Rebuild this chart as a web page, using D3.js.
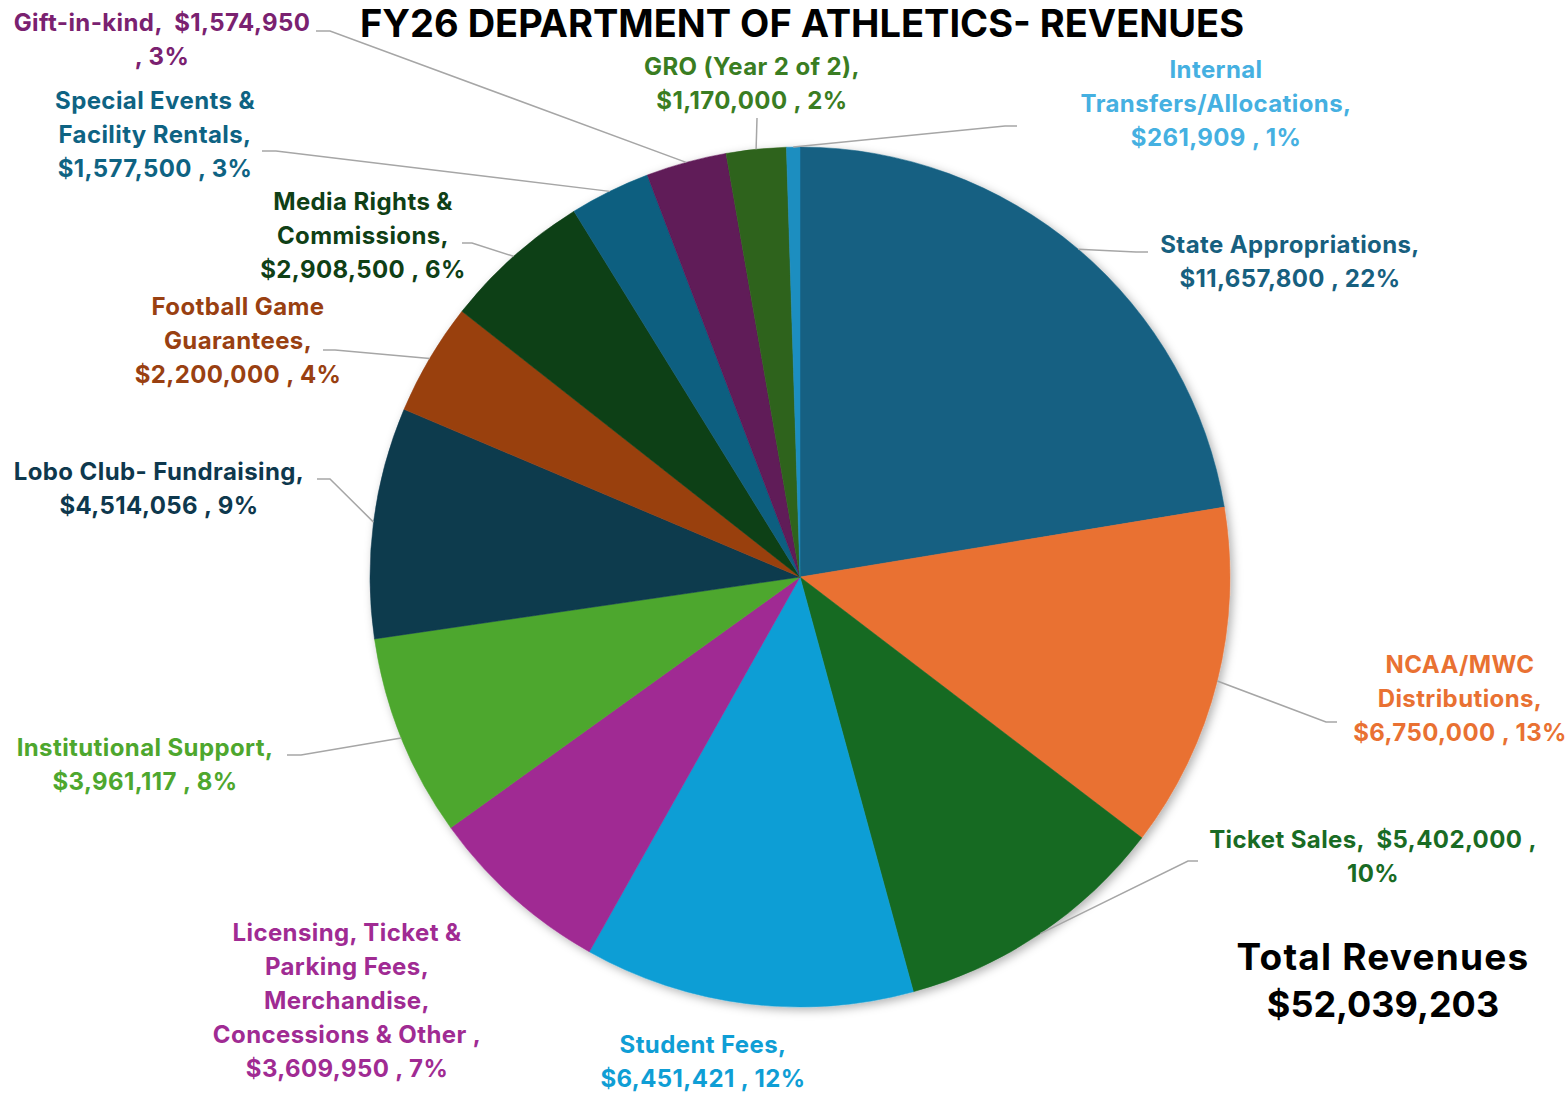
<!DOCTYPE html>
<html lang="en">
<head>
<meta charset="UTF-8">
<title>FY26 Athletics Revenues</title>
<style>
  body { margin: 0; background: #fff; }
  svg text { font-family: Inter, "Noto Sans", sans-serif; white-space: pre; }
</style>
</head>
<body>
<script src="https://d3js.org/d3.v7.min.js"></script>
<script>
// Chart data
const categories = [
    "State Appropriations",
    "NCAA/MWC Distributions",
    "Ticket Sales",
    "Student Fees",
    "Licensing, Ticket & Parking Fees, Merchandise, Concessions & Other",
    "Institutional Support",
    "Lobo Club- Fundraising",
    "Football Game Guarantees",
    "Media Rights & Commissions",
    "Special Events & Facility Rentals",
    "Gift-in-kind",
    "GRO (Year 2 of 2)",
    "Internal Transfers/Allocations"
];
const values = [11657800, 6750000, 5402000, 6451421, 3609950, 3961117,
    4514056, 2200000, 2908500, 1577500, 1574950, 1170000, 261909];

// how Excel wrapped each label ({v} = value, {p} = percent)
const labelLines = [
    ["State Appropriations,", "{v} , {p}"],
    ["NCAA/MWC", "Distributions,", "{v} , {p}"],
    ["Ticket Sales,  {v} ,", "{p}"],
    ["Student Fees,", "{v} , {p}"],
    ["Licensing, Ticket &", "Parking Fees,", "Merchandise,", "Concessions & Other ,", "{v} , {p}"],
    ["Institutional Support,", "{v} , {p}"],
    ["Lobo Club- Fundraising,", "{v} , {p}"],
    ["Football Game", "Guarantees,", "{v} , {p}"],
    ["Media Rights &", "Commissions,", "{v} , {p}"],
    ["Special Events &", "Facility Rentals,", "{v} , {p}"],
    ["Gift-in-kind,  {v}", ", {p}"],
    ["GRO (Year 2 of 2),", "{v} , {p}"],
    ["Internal", "Transfers/Allocations,", "{v} , {p}"]
];

const sliceColors = ["#156082", "#E97132", "#196B24", "#0F9ED5", "#A02B93", "#4EA72E",
    "#0D3A4E", "#994011", "#0F4016", "#095F80", "#601A58", "#2F641C", "#1F8EC0"];
const labelColors = ["#17607F", "#E97132", "#196B24", "#0F9ED5", "#A02B93", "#4EA72E",
    "#0E384D", "#994011", "#0F4016", "#0E6383", "#7A2170", "#3A7D22", "#45B0E1"];

// label placement (manual in the original): centre x, first baseline, leader elbow
const labelLayout = [
    {x: 1290, y: 253, elbow: [1136, 252, 1148]},
    {x: 1460, y: 673, elbow: [1326, 722, 1337]},
    {x: 1373, y: 848, elbow: [1188, 861, 1198]},
    {x: 703, y: 1053, elbow: null},
    {x: 347, y: 941, elbow: null},
    {x: 145, y: 756, elbow: [301, 755, 287]},
    {x: 159, y: 480, elbow: [330, 479, 317]},
    {x: 238, y: 315, elbow: [335, 350, 323]},
    {x: 363, y: 210, elbow: [472, 243, 462]},
    {x: 155, y: 109, elbow: [276, 151, 262]},
    {x: 162, y: 31, elbow: [330, 31, 316]},
    {x: 752, y: 75, elbow: [757, 118, 757]},
    {x: 1216, y: 78, elbow: [1005, 126, 1017]}
];

const width = 1567, height = 1093,
    cx = 800, cy = 577, radius = 430,
    lineHeight = 34;

const total = d3.sum(values);
const fmtMoney = d3.format("$,.0f"),
    fmtPct = d3.format(".0%");

const svg = d3.select("body").append("svg")
    .attr("width", width)
    .attr("height", height);

const defs = svg.append("defs");
const shadow = defs.append("filter").attr("id", "shadow")
    .attr("x", "-10%").attr("y", "-10%").attr("width", "120%").attr("height", "120%");
shadow.append("feDropShadow")
    .attr("dx", 3).attr("dy", 3).attr("stdDeviation", 5)
    .attr("flood-color", "#000").attr("flood-opacity", 0.3);

// Title
svg.append("text")
    .attr("x", 802).attr("y", 37)
    .attr("text-anchor", "middle")
    .style("font-size", "38px").style("font-weight", 700)
    .text("FY26 DEPARTMENT OF ATHLETICS- REVENUES");

const pie = d3.pie().value(d => d).sort(null);
const arcs = pie(values);
const arc = d3.arc().innerRadius(0).outerRadius(radius);
const edge = d3.arc().innerRadius(radius).outerRadius(radius);

const g = svg.append("g").attr("transform", `translate(${cx},${cy})`);

g.append("g").attr("filter", "url(#shadow)")
    .selectAll("path")
    .data(arcs)
    .enter().append("path")
    .attr("d", arc)
    .attr("fill", (d, i) => sliceColors[i])
    .attr("stroke", (d, i) => sliceColors[i])
    .attr("stroke-width", 0.5);

// leader lines
arcs.forEach((d, i) => {
    const lay = labelLayout[i];
    if (!lay.elbow) return;
    const p = edge.centroid(d);
    const [ex, ey, hx] = lay.elbow;
    const pts = [[cx + p[0], cy + p[1]], [ex, ey], [hx, ey]];
    svg.append("path")
        .attr("d", d3.line()(pts))
        .attr("fill", "none")
        .attr("stroke", "#A6A6A6")
        .attr("stroke-width", 1.5);
});

// data labels
arcs.forEach((d, i) => {
    const lay = labelLayout[i];
    const t = svg.append("text")
        .attr("text-anchor", "middle")
        .attr("fill", labelColors[i])
        .style("font-size", "24px").style("font-weight", 700)
        .style("letter-spacing", "0.4px");
    labelLines[i].forEach((ln, j) => {
        t.append("tspan")
            .attr("x", lay.x)
            .attr("y", lay.y + j * lineHeight)
            .text(ln.replace("{v}", fmtMoney(values[i])).replace("{p}", fmtPct(values[i] / total)));
    });
});

// Total box
const tot = svg.append("text")
    .attr("text-anchor", "middle")
    .style("font-size", "37px").style("font-weight", 700)
    .attr("fill", "#000");
tot.append("tspan").attr("x", 1383).attr("y", 970)
    .style("letter-spacing", "1.2px").text("Total Revenues");
tot.append("tspan").attr("x", 1383).attr("y", 1017)
    .style("font-size", "36px").text(fmtMoney(total));
</script>
</body>
</html>
